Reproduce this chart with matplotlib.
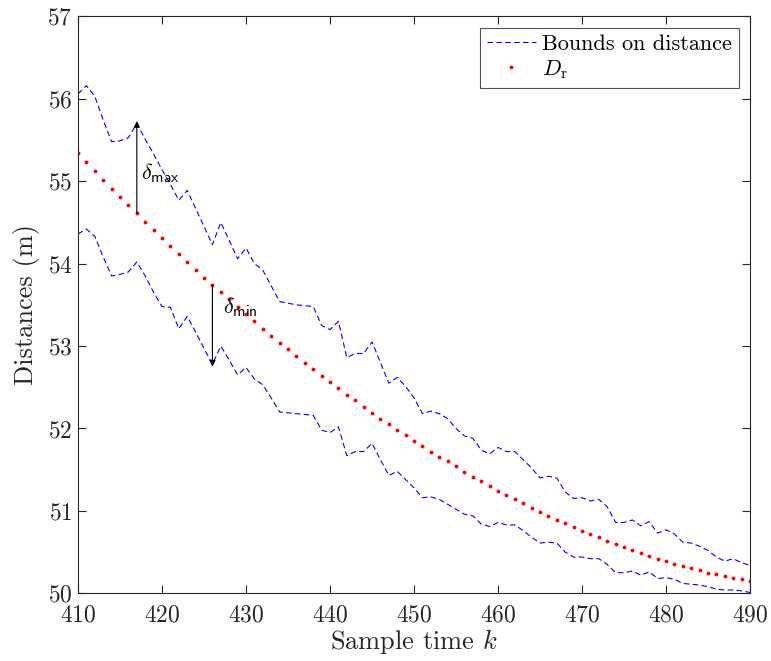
import matplotlib
matplotlib.use("Agg")
import matplotlib.pyplot as plt
import numpy as np

k = list(range(410, 491))

d_r = [55.34, 55.23, 55.13, 55.02, 54.91, 54.81, 54.71, 54.61, 54.51, 54.41,
       54.31, 54.21, 54.12, 54.02, 53.92, 53.83, 53.74, 53.66, 53.57, 53.48,
       53.39, 53.30, 53.21, 53.12, 53.04, 52.96, 52.88, 52.80, 52.72, 52.64,
       52.56, 52.49, 52.41, 52.34, 52.26, 52.19, 52.12, 52.05, 51.98, 51.92,
       51.85, 51.79, 51.72, 51.66, 51.60, 51.54, 51.47, 51.41, 51.36, 51.30,
       51.24, 51.19, 51.14, 51.09, 51.04, 50.99, 50.94, 50.89, 50.85, 50.81,
       50.76, 50.72, 50.68, 50.63, 50.60, 50.56, 50.52, 50.49, 50.45, 50.42,
       50.39, 50.36, 50.33, 50.31, 50.28, 50.25, 50.23, 50.21, 50.19, 50.17,
       50.15]

upper = [56.06, 56.16, 56.03, 55.74, 55.48, 55.49, 55.53, 55.70, 55.51, 55.33,
         55.14, 54.96, 54.77, 54.89, 54.67, 54.45, 54.23, 54.50, 54.28, 54.06,
         54.19, 54.00, 53.92, 53.73, 53.54, 53.52, 53.50, 53.49, 53.48, 53.25,
         53.20, 53.30, 52.86, 52.91, 52.91, 53.05, 52.80, 52.55, 52.62, 52.51,
         52.37, 52.18, 52.21, 52.18, 52.12, 52.00, 51.91, 51.88, 51.74, 51.69,
         51.77, 51.72, 51.72, 51.62, 51.52, 51.40, 51.42, 51.40, 51.23, 51.15,
         51.16, 51.12, 51.14, 51.05, 50.86, 50.86, 50.89, 50.82, 50.87, 50.73,
         50.77, 50.72, 50.62, 50.61, 50.57, 50.52, 50.44, 50.39, 50.42, 50.37,
         50.34]

lower = [54.36, 54.42, 54.33, 54.08, 53.85, 53.87, 53.90, 54.02, 53.85, 53.65,
         53.48, 53.47, 53.21, 53.36, 53.17, 52.97, 52.78, 53.00, 52.83, 52.65,
         52.74, 52.60, 52.53, 52.37, 52.20, 52.19, 52.18, 52.17, 52.16, 51.98,
         51.95, 52.02, 51.67, 51.72, 51.72, 51.82, 51.62, 51.43, 51.48, 51.38,
         51.28, 51.16, 51.17, 51.14, 51.08, 51.02, 50.96, 50.94, 50.84, 50.81,
         50.86, 50.83, 50.83, 50.76, 50.68, 50.61, 50.62, 50.61, 50.50, 50.44,
         50.44, 50.42, 50.42, 50.35, 50.25, 50.25, 50.27, 50.22, 50.26, 50.18,
         50.19, 50.17, 50.12, 50.11, 50.10, 50.08, 50.05, 50.04, 50.04, 50.03,
         50.01]

x_ticks = [410, 420, 430, 440, 450, 460, 470, 480, 490]
y_ticks = [50, 51, 52, 53, 54, 55, 56, 57]

# annotation arrows: (k, start value, end value)
arrow_max = (417, 54.61, 55.73)
arrow_min = (426, 53.74, 52.75)

plt.rcParams['font.family'] = ['cmr10', 'DejaVu Serif']
plt.rcParams['mathtext.fontset'] = 'cm'
plt.rcParams['axes.formatter.use_mathtext'] = True
plt.rcParams['axes.unicode_minus'] = False

fig = plt.figure(figsize=(7.71, 6.61), dpi=100)
ax = fig.add_axes([0.1012, 0.1024, 0.8716, 0.8728])

dark = '#262626'
ax.plot(k, upper, color='#0000FF', linestyle=(0, (5, 3)), linewidth=0.8,
        label='Bounds on distance')
ax.plot(k, lower, color='#0000FF', linestyle=(0, (5, 3)), linewidth=0.8)
ax.plot(k, d_r, linestyle='none', marker='o', markersize=2.8,
        color='#FF0000', markeredgewidth=0, label=r'$D_{\mathrm{r}}$')

for (xk, y0, y1) in (arrow_max, arrow_min):
    ax.annotate('', xy=(xk, y1), xytext=(xk, y0),
                arrowprops=dict(arrowstyle='-|>', color='black', lw=0.8,
                                mutation_scale=9, shrinkA=0, shrinkB=0))

ax.text(417.5, 55.03, r'$\delta_{\mathsf{max}}$', fontsize=16, color='black')
ax.text(427.2, 53.40, r'$\delta_{\mathsf{min}}$', fontsize=16, color='black')

ax.set_xlim(410, 490)
ax.set_ylim(50, 57)
ax.set_xticks(x_ticks)
ax.set_yticks(y_ticks)
ax.tick_params(direction='in', length=6, width=0.8, top=True, right=True,
               labelsize=17, colors=dark)
ax.tick_params(axis='x', pad=8)
ax.tick_params(axis='y', pad=4)
for s in ax.spines.values():
    s.set_color(dark)
    s.set_linewidth(0.8)

ax.set_xlabel(r'Sample time $k$', fontsize=19, color=dark, labelpad=0)
ax.set_ylabel('Distances (m)', fontsize=19, color=dark, labelpad=5)

leg = ax.legend(loc='upper right', fontsize=16, frameon=True, fancybox=False,
                edgecolor=dark, handlelength=2.2, handletextpad=0.3,
                borderpad=0.3, labelspacing=0.2, borderaxespad=0.5,
                markerscale=1.0, numpoints=1)
leg.get_frame().set_linewidth(0.8)

fig.savefig('out.png', dpi=100)
